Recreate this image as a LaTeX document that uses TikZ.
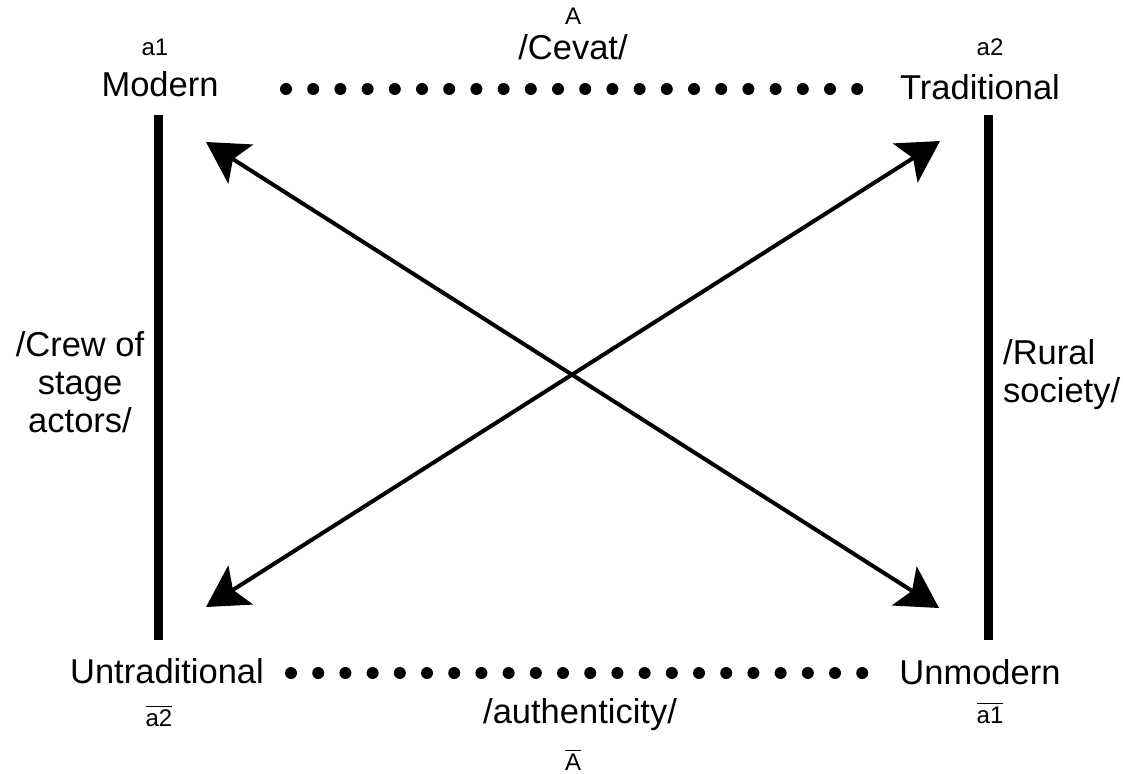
\documentclass[tikz,border=0pt]{standalone}
\usepackage{fontspec}
\setmainfont{Liberation Sans}
\usetikzlibrary{arrows.meta}

% text with a bar over it
\newcommand\barred[1]{\leavevmode\vbox{\hrule height 1pt\kern 2.5pt\hbox{#1}}}

\begin{document}
\begin{tikzpicture}[x=1pt,y=-1pt,
  term/.style={inner sep=0pt,anchor=base,font=\fontsize{34.5}{38}\selectfont},
  tag/.style={inner sep=0pt,anchor=base,font=\fontsize{24}{26}\selectfont},
  sidebar/.style={line width=9pt},
  dotrow/.style={line width=12pt,line cap=round,dash pattern=on 0pt off 27.2pt},
  relation/.style={line width=4pt,{Stealth[length=41pt,width=46pt,inset=9pt]}-{Stealth[length=41pt,width=46pt,inset=9pt]}}]
  \useasboundingbox (0,0) rectangle (1123,773);

  % corner terms and their tags
  \node[tag]  (a1)  at (155,56)  {a1};
  \node[term] (mod) at (160,97)  {Modern};
  \node[tag]  (a2)  at (990,56)  {a2};
  \node[term] (tra) at (980,100) {Traditional};
  \node[term] (unt) at (167,683) {Untraditional};
  \node[tag]  (na2) at (159,726) {\barred{a2}};
  \node[term] (unm) at (980,684) {Unmodern};
  \node[tag]  (na1) at (990,723) {\barred{a1}};

  % axis labels
  \node[tag]  (A)    at (573,25)  {A};
  \node[term] (cev)  at (573,60)  {/Cevat/};
  \node[term] (auth) at (580,723) {/authenticity/};
  \node[tag]  (nA)   at (573,770) {\barred{A}};
  \node[term,anchor=center,align=center] (crew) at (80,382) {/Crew of\\stage\\actors/};
  \node[term,anchor=west,align=left] (rur) at (1003,375) {/Rural\\society/};

  % dotted contraries
  \coordinate (t1) at (286,89);  \coordinate (t2) at (858.5,89);
  \coordinate (b1) at (291,673); \coordinate (b2) at (863.5,673);
  \draw[dotrow] (t1) -- (t2);
  \draw[dotrow] (b1) -- (b2);

  % solid implications
  \coordinate (l1) at (158,115); \coordinate (l2) at (158,640);
  \coordinate (r1) at (988,115); \coordinate (r2) at (988,640);
  \draw[sidebar] (l1) -- (l2);
  \draw[sidebar] (r1) -- (r2);

  % contradictions
  \coordinate (xtl) at (206,142); \coordinate (xbr) at (939,608);
  \coordinate (xtr) at (940,141); \coordinate (xbl) at (206,607);
  \draw[relation] (xtl) -- (xbr);
  \draw[relation] (xtr) -- (xbl);
\end{tikzpicture}
\end{document}
